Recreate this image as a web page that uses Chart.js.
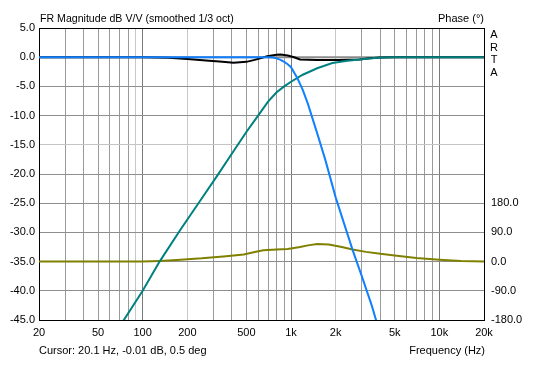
<!DOCTYPE html>
<html>
<head>
<meta charset="utf-8">
<script src="https://cdn.jsdelivr.net/npm/chart.js@4/dist/chart.umd.min.js"></script>
<style>
  html, body { margin: 0; padding: 0; background: #fff; }
  canvas { display: block; }
</style>
</head>
<body>
<canvas id="chart" width="536" height="375"></canvas>
<script>
// grid + tick labels
const gridFreqs  = [20,30,40,50,60,70,80,90,100,200,300,400,500,600,700,800,900,1000,2000,3000,4000,5000,6000,7000,8000,9000,10000,20000];
const freqLabels = {20:'20', 50:'50', 100:'100', 200:'200', 500:'500', 1000:'1k', 2000:'2k', 5000:'5k', 10000:'10k', 20000:'20k'};
const lightFreqs = [90, 200, 2000];
const decadeFreqs = [100, 1000, 10000];

// low-pass magnitude (blue)
const lpFreq = [20, 100, 300, 600, 700, 750, 800, 850, 900, 950, 1000, 1100, 1200, 1300, 1500, 1700, 2000, 2300, 2600, 3000, 3500, 4000];
const lpMag  = [0, 0, 0, 0, 0, -0.05, -0.2, -0.45, -0.8, -1.2, -1.7, -3.5, -5.6, -8.0, -13.0, -17.5, -24.0, -28.8, -33.0, -37.5, -42.5, -47.5];

// high-pass magnitude (teal)
const hpFreq = [70, 100, 130, 180, 250, 320, 400, 500, 600, 700, 800, 900, 1000, 1200, 1500, 1900, 2400, 3000, 3800, 5000, 20000];
const hpMag  = [-46.1, -40, -35, -29.5, -24.2, -20.2, -16.5, -12.8, -10.0, -7.6, -6.0, -5.0, -4.2, -3.0, -1.9, -1.0, -0.6, -0.35, -0.1, 0, 0];

// summed magnitude (black)
const sumFreq = [20, 100, 150, 200, 280, 330, 410, 500, 560, 620, 690, 800, 850, 950, 1050, 1150, 1500, 2100, 2900, 3400, 4000, 5000, 20000];
const sumMag  = [0, 0, -0.1, -0.3, -0.6, -0.75, -0.95, -0.8, -0.5, -0.2, 0.15, 0.4, 0.45, 0.3, 0, -0.4, -0.5, -0.5, -0.4, -0.2, -0.05, 0, 0];

// reference trace (gray)
const refFreq = [20, 20000];
const refMag  = [0, 0];

// phase (olive)
const phFreq = [20, 100, 130, 170, 250, 350, 480, 560, 650, 800, 950, 1150, 1300, 1500, 1800, 2200, 2600, 3200, 4000, 5000, 7000, 10000, 14000, 20000];
const phDeg  = [0, 0, 2, 5, 10, 16, 22, 29, 35, 37, 39, 45, 50, 54, 53, 45, 37, 30, 24, 19, 11, 6, 2, 0];

const FONT = { family: '"Liberation Sans", Arial, sans-serif', size: 11 };

function pts(xs, ys){ return xs.map((x, i) => ({ x, y: ys[i] })); }

function vGridColor(v){
  if (lightFreqs.includes(v)) return '#c8c8c8';
  if (decadeFreqs.includes(v)) return '#7a7a7a';
  return '#9a9a9a';
}

const framePlugin = {
  id: 'frame',
  afterDraw(chart){
    const { ctx, chartArea: a } = chart;
    ctx.save();
    ctx.strokeStyle = '#000';
    ctx.lineWidth = 1;
    const t = Math.round(a.top) + 0.5;
    ctx.beginPath(); ctx.moveTo(a.left, t); ctx.lineTo(a.right + 1, t); ctx.stroke();

    ctx.fillStyle = '#000';
    ctx.textBaseline = 'alphabetic';
    ctx.textAlign = 'left';
    ctx.font = '10.6px "Liberation Sans", Arial, sans-serif';
    ctx.fillText('FR Magnitude dB V/V (smoothed 1/3 oct)', 40, 22);
    ctx.font = '11px "Liberation Sans", Arial, sans-serif';
    ctx.fillText('Cursor: 20.1 Hz, -0.01 dB, 0.5 deg', 39, 354);
    ctx.textAlign = 'right';
    ctx.fillText('Phase (°)', 484, 22);
    ctx.fillText('Frequency (Hz)', 485, 354);
    ctx.textAlign = 'center';
    ['A', 'R', 'T', 'A'].forEach((ch, i) => ctx.fillText(ch, 494, 38 + i * 12.7));
    ctx.restore();
  }
};

new Chart(document.getElementById('chart'), {
  type: 'line',
  data: {
    datasets: [
      { label: 'LP', data: pts(lpFreq, lpMag), borderColor: 'rgb(16,128,255)', yAxisID: 'y' },
      { label: 'HP', data: pts(hpFreq, hpMag), borderColor: 'rgb(0,128,128)', yAxisID: 'y' },
      { label: 'Sum', data: pts(sumFreq, sumMag), borderColor: '#000', yAxisID: 'y' },
      { label: 'Ref', data: pts(refFreq, refMag), borderColor: 'rgb(140,140,140)', yAxisID: 'y' },
      { label: 'Phase', data: pts(phFreq, phDeg), borderColor: 'rgb(128,128,0)', yAxisID: 'y2' }
    ]
  },
  options: {
    responsive: false,
    animation: false,
    events: [],
    parsing: false,
    elements: { point: { radius: 0 }, line: { borderWidth: 2, tension: 0 } },
    layout: { padding: { top: 28, left: 0, right: 0, bottom: 0 } },
    plugins: { legend: { display: false }, tooltip: { enabled: false } },
    scales: {
      x: {
        type: 'logarithmic', min: 20, max: 20000,
        afterBuildTicks: s => { s.ticks = gridFreqs.map(v => ({ value: v })); },
        afterFit: s => { s.height = 55; },
        ticks: { autoSkip: false, maxRotation: 0, padding: 6, color: '#000', font: FONT,
                 callback: v => freqLabels[v] ?? '' },
        grid: { drawTicks: false, color: ctx => vGridColor(ctx.tick && ctx.tick.value) },
        border: { color: '#000' }
      },
      y: {
        position: 'left', min: -45, max: 5,
        afterFit: s => { s.width = 39; },
        ticks: { stepSize: 5, padding: 4, color: '#000', font: FONT, callback: v => v.toFixed(1) },
        grid: { drawTicks: false, color: ctx => (ctx.tick && ctx.tick.value === -15) ? '#c4c4c4' : '#8e8e8e' },
        border: { color: '#000' }
      },
      y2: {
        position: 'right', min: -180, max: 720,
        afterFit: s => { s.width = 52; },
        ticks: { stepSize: 90, padding: 7, color: '#000', font: FONT,
                 callback: v => v <= 180 ? v.toFixed(1) : '' },
        grid: { display: false, drawTicks: false },
        border: { color: '#000' }
      }
    }
  },
  plugins: [framePlugin]
});
</script>
</body>
</html>
